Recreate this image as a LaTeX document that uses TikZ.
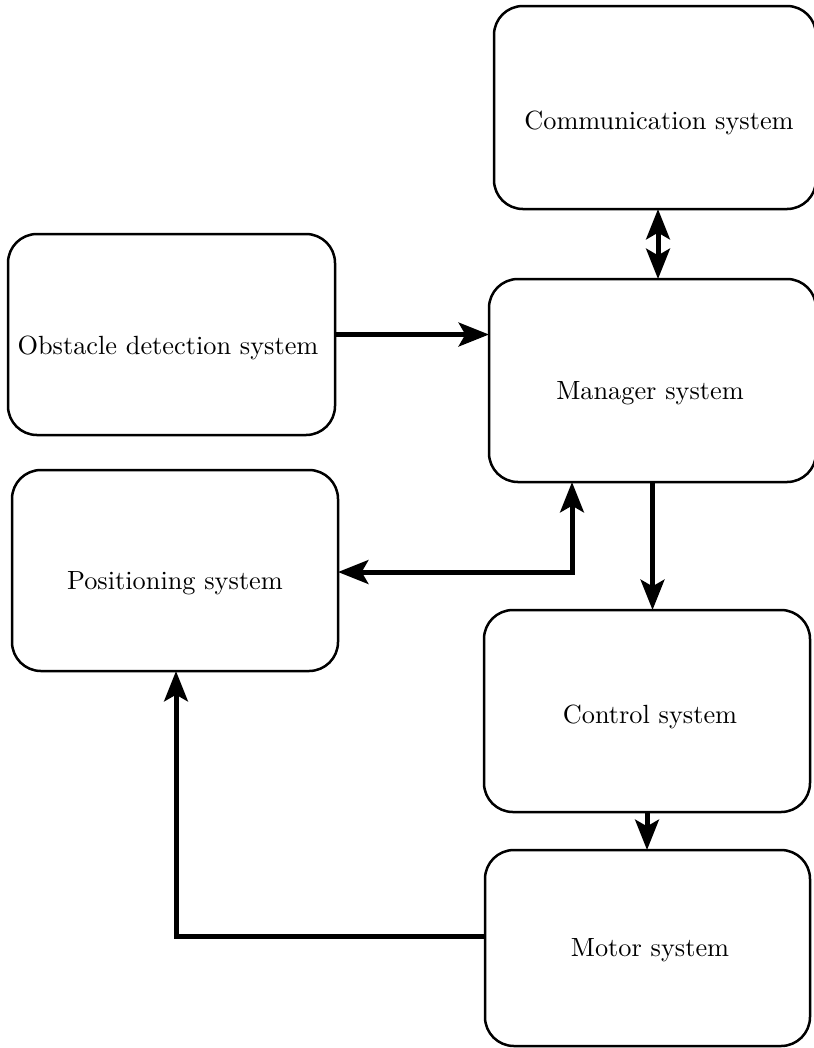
\documentclass[tikz,border=0pt]{standalone}
\usetikzlibrary{arrows.meta}
\begin{document}
\begin{tikzpicture}[x=0.38pt, y=-0.38pt,
  box/.style={draw, line width=0.95pt, rounded corners=11pt, inner sep=0pt, outer sep=0pt},
  lbl/.style={inner sep=0pt, font=\normalsize},
  link/.style={line width=1.9pt, -{Stealth[length=11.5pt, width=9pt, inset=2.5pt]}},
  dlink/.style={line width=1.9pt, {Stealth[length=11.5pt, width=9pt, inset=2.5pt]}-{Stealth[length=11.5pt, width=9pt, inset=2.5pt]}}]
\useasboundingbox (0,0) rectangle (814,1048);

% blocks
\node[box, minimum width={322*0.38pt}, minimum height={203*0.38pt}] (comm)  at (655,107.5) {};
\node[box, minimum width={327*0.38pt}, minimum height={201*0.38pt}] (obst)  at (171.5,334.5) {};
\node[box, minimum width={327*0.38pt}, minimum height={203*0.38pt}] (mgr)   at (652.5,380.5) {};
\node[box, minimum width={326*0.38pt}, minimum height={201*0.38pt}] (pos)   at (175,570.5) {};
\node[box, minimum width={326*0.38pt}, minimum height={202*0.38pt}] (ctrl)  at (647,711) {};
\node[box, minimum width={325*0.38pt}, minimum height={196*0.38pt}] (motor) at (647.5,948) {};

% block titles
\node[lbl] (commT)  at (659,123) {Communication system};
\node[lbl] (obstT)  at (168,348) {Obstacle detection system};
\node[lbl] (mgrT)   at (650,393) {Manager system};
\node[lbl] (posT)   at (175,583) {Positioning system};
\node[lbl] (ctrlT)  at (650,717) {Control system};
\node[lbl] (motorT) at (650,950) {Motor system};

% connectors
\draw[dlink] ([xshift={3*0.38pt}]comm.south) -- ([xshift={5.5*0.38pt}]mgr.north);
\draw[link] (obst.east) -- (obst.east -| mgr.west);
\coordinate (bendA) at (572,572);
\draw[dlink] (pos.east |- bendA) -- (bendA) -- (bendA |- mgr.south);
\draw[link] (mgr.south) -- (ctrl.north -| mgr.south);
\draw[link] (ctrl.south) -- (motor.north -| ctrl.south);
\coordinate (bendB) at (176,936);
\draw[link] (motor.west |- bendB) -- (bendB) -- (bendB |- pos.south);
\end{tikzpicture}
\end{document}
